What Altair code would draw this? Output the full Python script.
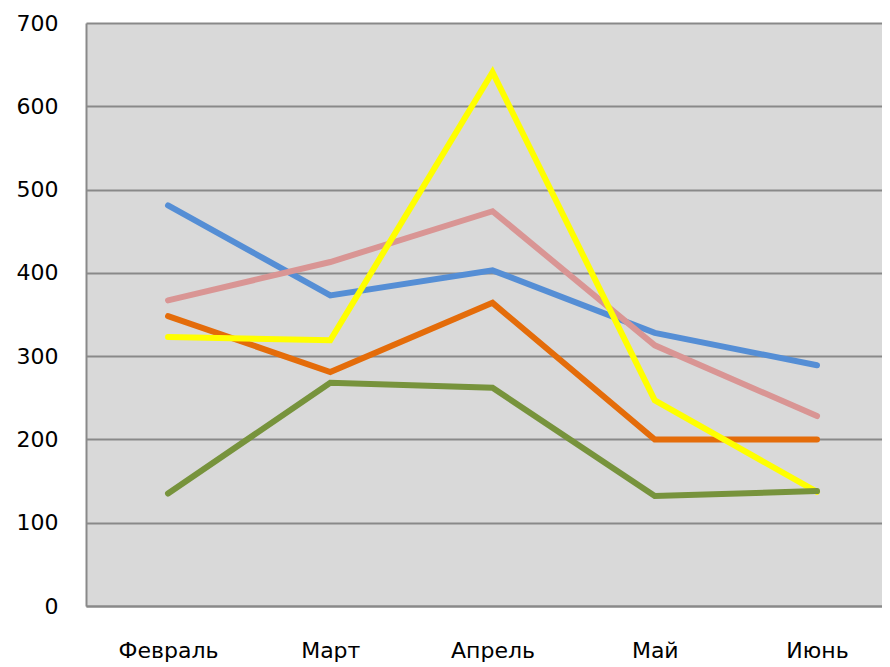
import altair as alt
import pandas as pd

months = ["Февраль", "Март", "Апрель", "Май", "Июнь"]
series_names = ["Ряд1", "Ряд2", "Ряд3", "Ряд4", "Ряд5"]
blue = [481, 373, 403, 328, 289]
pink = [367, 413, 474, 313, 228]
orange = [348, 281, 364, 200, 200]
yellow = [323, 319, 641, 247, 137]
green = [135, 268, 262, 132, 138]
colors = ["#558ED5", "#D99594", "#E46C0A", "#FFFF00", "#77933C"]
y_ticks = [0, 100, 200, 300, 400, 500, 600, 700]

all_series = [blue, pink, orange, yellow, green]
rows = []
for name, vals in zip(series_names, all_series):
    for m, v in zip(months, vals):
        rows.append({"series": name, "month": m, "value": v})
df = pd.DataFrame(rows)

grid_color = "#898989"
font = "DejaVu Sans"

chart = alt.Chart(df).mark_line(strokeWidth=6, strokeCap="round").encode(
    x=alt.X(
        "month:N",
        sort=months,
        scale=alt.Scale(type="point", padding=0.453, align=0.558),
        axis=alt.Axis(
            title=None, labelAngle=0, ticks=False, grid=False,
            domainColor=grid_color, domainWidth=2,
            labelFont=font, labelFontSize=22, labelColor="#000000",
            labelPadding=34,
        ),
    ),
    y=alt.Y(
        "value:Q",
        scale=alt.Scale(domain=[0, 700], nice=False),
        axis=alt.Axis(
            values=y_ticks, title=None, ticks=False, grid=True,
            gridColor=grid_color, gridWidth=2, gridOpacity=1,
            domainColor=grid_color, domainWidth=2,
            labelFont=font, labelFontSize=22, labelColor="#000000",
            labelPadding=28,
        ),
    ),
    color=alt.Color(
        "series:N",
        scale=alt.Scale(domain=series_names, range=colors),
        legend=None,
    ),
).properties(
    width=796,
    height=583,
    autosize=alt.AutoSizeParams(type="none"),
    padding={"left": 78, "top": 15, "right": 0, "bottom": 62},
).configure_view(
    fill="#D9D9D9", strokeOpacity=0
)

chart.save("out.html", embed_options={"renderer": "svg", "actions": False})
